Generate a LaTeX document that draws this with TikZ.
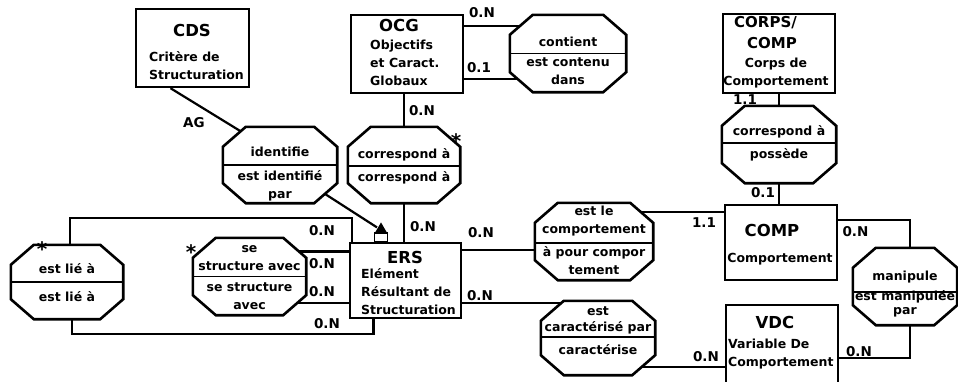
\documentclass[tikz,border=0pt]{standalone}
\usepackage{fontspec}
\setmainfont{DejaVu Sans}
\usepackage{tikz}
\usetikzlibrary{backgrounds}

\begin{document}
\begin{tikzpicture}[
      x=1pt,y=-1pt,
      ent/.style={rectangle,draw,fill=white,line width=2.4pt,inner sep=0pt},
      rel/.style={rectangle,inner sep=0pt},
      octa/.style={draw,fill=white,line width=2.6pt},
      divider/.style={line width=1.6pt},
      link/.style={line width=2.2pt},
      txt/.style={font=\bfseries\fontsize{12.5}{18}\selectfont,inner sep=0pt,align=center},
      body/.style={txt,align=left,anchor=west},
      ttl/.style={font=\bfseries\fontsize{16.5}{18}\selectfont,inner sep=0pt,align=center},
      card/.style={font=\bfseries\fontsize{13.5}{15}\selectfont,inner sep=0pt},
      aster/.style={font=\bfseries\fontsize{20}{20}\selectfont,inner sep=0pt},
    ]
    \useasboundingbox (0,0) rectangle (958,381);
    \node[ent,minimum width=113pt,minimum height=78pt] (cds) at (192.5,48) {};
    \node[ent,minimum width=112pt,minimum height=78pt] (ocg) at (407,54) {};
    \node[ent,minimum width=112pt,minimum height=79pt] (corps) at (779,53.5) {};
    \node[ent,minimum width=111pt,minimum height=75pt] (ers) at (405.5,280.5) {};
    \node[ent,minimum width=112pt,minimum height=75pt] (comp) at (781,242.5) {};
    \node[ent,minimum width=112pt,minimum height=84pt] (vdc) at (782,347) {};
    \node[rel,minimum width=116pt,minimum height=77pt] (contient) at (568,53.5) {};
    \node[rel,minimum width=114pt,minimum height=76pt] (ident) at (280,165) {};
    \node[rel,minimum width=112pt,minimum height=76pt] (corr) at (404,165) {};
    \node[rel,minimum width=112pt,minimum height=74pt] (estlie) at (67,282) {};
    \node[rel,minimum width=113pt,minimum height=77pt] (sestruct) at (249.5,276.5) {};
    \node[rel,minimum width=118pt,minimum height=77pt] (estcomp) at (594,241.5) {};
    \node[rel,minimum width=114pt,minimum height=74pt] (caract) at (598,338) {};
    \node[rel,minimum width=114pt,minimum height=77pt] (poss) at (779,144.5) {};
    \node[rel,minimum width=104pt,minimum height=77pt] (manip) at (905,286.5) {};
    \foreach \x in {contient,ident,corr,estlie,sestruct,estcomp,caract,poss,manip}
      \draw[octa] ([xshift=23pt]\x.north west) -- ([xshift=-23pt]\x.north east)
        -- ([yshift=-20pt]\x.north east) -- ([yshift=20pt]\x.south east)
        -- ([xshift=-23pt]\x.south east) -- ([xshift=23pt]\x.south west)
        -- ([yshift=20pt]\x.south west) -- ([yshift=-20pt]\x.north west) -- cycle;
    \node[draw,fill=white,line width=1.6pt,minimum width=13pt,minimum height=9pt,inner sep=0pt,anchor=south] (mark) at (381,243) {};
    \fill ([xshift=1.5pt]mark.north west) -- ([yshift=10pt]mark.north) -- ([xshift=-1.5pt]mark.north east) -- cycle;

    \draw[divider] (contient.west) -- (contient.east);
    \draw[divider] (ident.west) -- (ident.east);
    \draw[divider] ([yshift=-1pt]corr.west) -- ([yshift=-1pt]corr.east);
    \draw[divider] (estlie.west) -- (estlie.east);
    \draw[divider] (sestruct.west) -- (sestruct.east);
    \draw[divider] ([yshift=-1.5pt]estcomp.west) -- ([yshift=-1.5pt]estcomp.east);
    \draw[divider] ([yshift=1pt]caract.west) -- ([yshift=1pt]caract.east);
    \draw[divider] ([yshift=1.5pt]poss.west) -- ([yshift=1.5pt]poss.east);
    \draw[divider] ([yshift=-5.5pt]manip.west) -- ([yshift=-5.5pt]manip.east);

    \begin{scope}[on background layer]
      \draw[link] ([xshift=-22pt]cds.south) -- ([xshift=-30pt,yshift=28pt]ident.center);
      \draw[link] (ident.center) -- ([xshift=-4pt,yshift=5pt]mark.north);
      \draw[link] ([yshift=28pt]ocg.east) -- ([yshift=28pt]ocg.east -| contient.center);
      \draw[link] ([yshift=-25pt]ocg.east) -- ([yshift=-25pt]ocg.east -| contient.center);
      \draw[link] (corr.north) -- (corr.north |- ocg.south);
      \draw[link] (corr.south) -- (corr.south |- ers.north);
      \draw[link] ([xshift=3pt]ers.north west) -- ++(0,-24) -| ([xshift=3pt]estlie.center);
      \draw[link] ([xshift=-32pt]ers.south) -- ++(0,15) -| ([xshift=5pt]estlie.center);
      \draw[link] ([yshift=25pt]sestruct.center) -- ([yshift=25pt]sestruct.center -| ers.west);
      \draw[link] ([yshift=-26.5pt]sestruct.center) -- ([yshift=-26.5pt]sestruct.center -| ers.west);
      \draw[link] ([yshift=30.5pt]ers.east) -- ([yshift=30.5pt]ers.east -| estcomp.center);
      \draw[link] ([yshift=-22.5pt]ers.east) -- ([yshift=-22.5pt]ers.east -| caract.center);
      \draw[link] ([yshift=30.5pt]comp.west) -- ([yshift=30.5pt]comp.west -| estcomp.center);
      \draw[link] (corps) -- (poss);
      \draw[link] (poss.south) -- (poss.south |- comp.north);
      \draw[link] ([yshift=22.5pt]comp.east) -| ([xshift=5pt]manip.center);
      \draw[link] ([xshift=5pt]manip.center) |- ([yshift=-11pt]vdc.east);
      \draw[link] ([yshift=-20pt]vdc.west) -- ([yshift=-20pt]vdc.west -| caract.center);
    \end{scope}

    \node[ttl] (cds-t) at (192,30) {CDS};
    \node[body] (cds-b) at (149,66) {Critère de\\Structuration};
    \node[ttl] (ocg-t) at (399,25) {OCG};
    \node[body] (ocg-b) at (370,62.5) {Objectifs\\et Caract.\\Globaux};
    \node[ttl,font=\bfseries\fontsize{15}{17}\selectfont,align=right,anchor=east] (corps-t) at (797,32.5) {CORPS/\\[4pt]COMP};
    \node[txt] (corps-b) at (776,73) {Corps de\\Comportement};
    \node[ttl] (ers-t) at (405,257) {ERS};
    \node[body] (ers-b) at (361,292) {Elément\\Résultant de\\Structuration};
    \node[ttl] (comp-t) at (772,230) {COMP};
    \node[txt] (comp-b) at (780,259) {Comportement};
    \node[ttl] (vdc-t) at (775,322) {VDC};
    \node[body] (vdc-b) at (728,354) {Variable De\\Comportement};

    \node[txt] (contient-a) at (568,42) {contient};
    \node[txt] (contient-b) at (568,71) {est contenu\\dans};
    \node[txt] (ident-a) at (280,152) {identifie};
    \node[txt] (ident-b) at (280,185.5) {est identifié\\par};
    \node[txt] (corr-a) at (404,155) {correspond à};
    \node[txt] (corr-b) at (404,178) {correspond à};
    \node[txt] (estlie-a) at (67,269) {est lié à};
    \node[txt] (estlie-b) at (67,297) {est lié à};
    \node[txt] (sestruct-a) at (249.5,258) {se\\structure avec};
    \node[txt] (sestruct-b) at (249.5,296) {se structure\\avec};
    \node[txt] (estcomp-a) at (594,221.5) {est le\\comportement};
    \node[txt] (estcomp-b) at (594,261) {à pour compor\\tement};
    \node[txt] (caract-a) at (598,320) {est\\[-2pt]caractérisé par};
    \node[txt] (caract-b) at (598,350) {caractérise};
    \node[txt] (poss-a) at (779,132) {correspond à};
    \node[txt] (poss-b) at (779,155) {possède};
    \node[txt] (manip-a) at (905,277) {manipule};
    \node[txt] (manip-b) at (905,303.5) {est manipulée\\[-4pt]par};

    \node[card] (c1) at (482,13) {0.N};
    \node[card] (c2) at (479,68) {0.1};
    \node[card] (c3) at (422,111) {0.N};
    \node[card] (c4) at (423,227) {0.N};
    \node[card] (ag) at (194,123) {AG};
    \node[card] (c5) at (322,231) {0.N};
    \node[card] (c6) at (322,264) {0.N};
    \node[card] (c7) at (322,292) {0.N};
    \node[card] (c8) at (327,324) {0.N};
    \node[card] (c9) at (481,233) {0.N};
    \node[card] (c10) at (480,296) {0.N};
    \node[card] (c11) at (704,223) {1.1};
    \node[card] (c12) at (745,100) {1.1};
    \node[card] (c13) at (763,193) {0.1};
    \node[card] (c14) at (855.5,232) {0.N};
    \node[card] (c15) at (859,352) {0.N};
    \node[card] (c16) at (706,357) {0.N};

    \node[aster] (s1) at (42,249) {*};
    \node[aster] (s2) at (191,252) {*};
    \node[aster] (s3) at (456,141) {*};
  \end{tikzpicture}
\end{document}
